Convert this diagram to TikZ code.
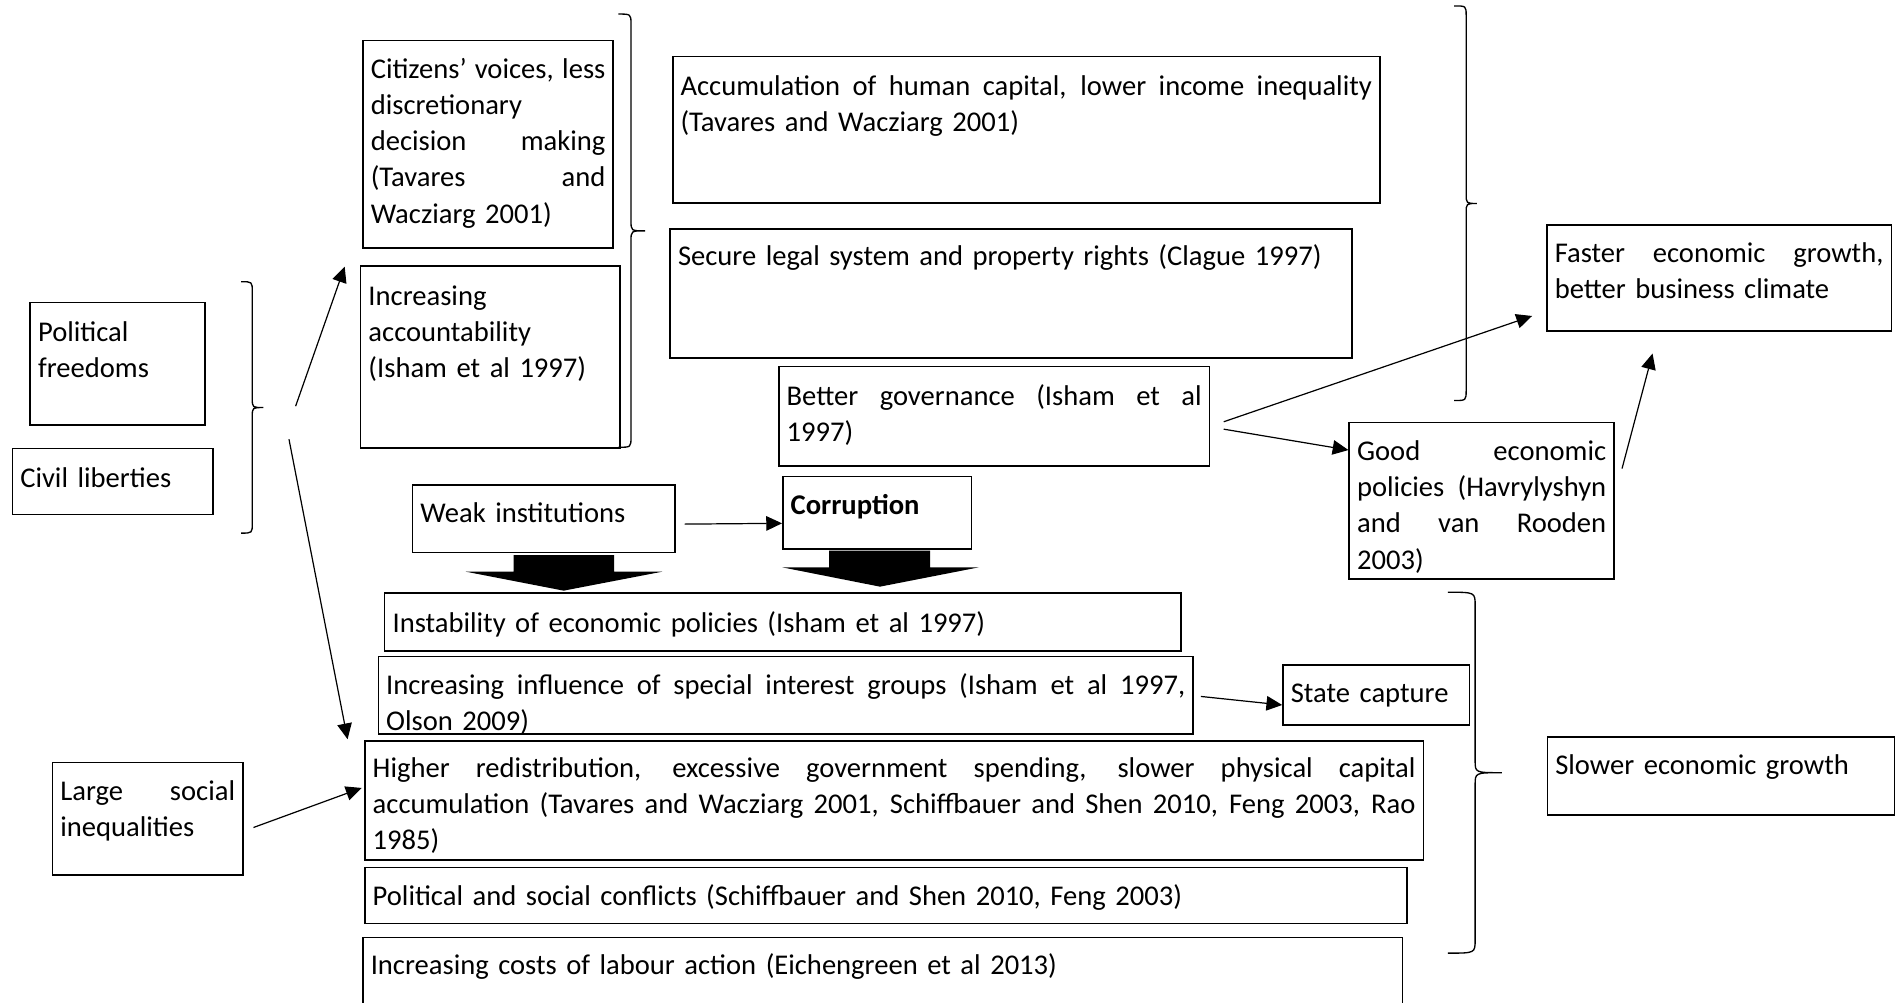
\documentclass[tikz,border=0pt]{standalone}
\usepackage{fontspec}
\setmainfont{Carlito}
\usetikzlibrary{arrows.meta,calc}
\newcommand{\J}[1]{\leavevmode\hbox to \bxw pt{\spaceskip=0pt\xspaceskip=0pt #1}}
\tikzset{
  bx/.style={draw, line width=1.3pt, rectangle, anchor=north west,
    inner xsep=6.5pt, inner ysep=0pt, align=left,
    font=\fontsize{23.6}{29.8}\selectfont},
  geom/.code n args={3}{%
    \pgfmathsetmacro\bxw{#1-13}\pgfmathsetmacro\bxd{#2-#3}%
    \global\let\bxw\bxw
    \edef\bxtmp{\noexpand\pgfkeysalso{text width=\bxw pt,text height=#3pt,text depth=\bxd pt}}\bxtmp},
  arr/.style={-{Triangle[length=13pt,width=12pt]}, line width=1pt},
  brc/.style={line width=1.1pt},
  blockarrow/.style={fill=black},
}
\begin{document}
\begin{tikzpicture}[x=1pt,y=-1pt]
\path[use as bounding box, fill=white] (0,0) rectangle (1568,828);
\clip (0,0) rectangle (1568,828);

% boxes
\node[bx, geom={206.7}{171.5}{31.6}] (cit) at (299,32.7)
  {\J{Citizens’ voices, less}\\ discretionary\\ \J{decision making}\\ \J{(Tavares and}\\ Wacziarg 2001)};
\node[bx, geom={214.2}{150.1}{32.2}] (acc) at (297.1,219.2)
  {Increasing\\ accountability\\ (Isham et al 1997)};
\node[bx, geom={583.9}{121}{32.4}] (hum) at (554.8,46)
  {\J{Accumulation of human capital, lower income inequality}\\ (Tavares and Wacziarg 2001)};
\node[bx, geom={562.8}{106.5}{30.5}] (leg) at (552.7,188.3)
  {Secure legal system and property rights (Clague 1997)};
\node[bx, geom={284.4}{87.6}{31}] (fast) at (1276.6,185)
  {\J{Faster economic growth,}\\ better business climate};
\node[bx, geom={355.6}{82}{32.4}] (gov) at (642.4,302)
  {\J{Better governance (Isham et al}\\ 1997)};
\node[bx, geom={218.7}{129.3}{31.6}] (good) at (1113.4,348.2)
  {\J{Good economic}\\ \J{policies (Havrylyshyn}\\ \J{and van Rooden}\\ 2003)};
\node[bx, geom={144.2}{101.4}{32.5}] (pol) at (24.3,249)
  {Political\\ freedoms};
\node[bx, geom={165.5}{54.5}{32.2}] (civ) at (9.6,369.8)
  {Civil liberties};
\node[bx, geom={216.5}{56}{31.1}] (weak) at (340,399.6)
  {Weak institutions};
\node[bx, geom={155.7}{60}{31.1}] (corr) at (645.7,392.8)
  {\textbf{Corruption}};
\node[bx, geom={657.5}{48}{33}] (inst) at (317,488.8)
  {Instability of economic policies (Isham et al 1997)};
\node[bx, geom={672.8}{64}{31.2}] (infl) at (311.7,541.5)
  {\J{Increasing influence of special interest groups (Isham et al 1997,}\\ Olson 2009)};
\node[bx, geom={154.1}{49.8}{31.1}] (cap) at (1058.7,548.3)
  {State capture};
\node[bx, geom={874}{98.2}{30}] (high) at (300.6,611.4)
  {\J{Higher redistribution, excessive government spending, slower physical capital}\\ \J{accumulation (Tavares and Wacziarg 2001, Schiffbauer and Shen 2010, Feng 2003, Rao}\\ 1985)};
\node[bx, geom={157.3}{93}{30.9}] (large) at (42.7,629)
  {\J{Large social}\\ inequalities};
\node[bx, geom={860.6}{46.3}{31.6}] (conf) at (300.6,715.7)
  {Political and social conflicts (Schiffbauer and Shen 2010, Feng 2003)};
\node[bx, geom={858.5}{80}{30.3}] (cost) at (299,773.3)
  {Increasing costs of labour action (Eichengreen et al 2013)};
\node[bx, geom={286.5}{64.7}{31.3}] (slow) at (1277,607.7)
  {Slower economic growth};

% braces
\draw[brc] (199,232.6) .. controls (208.3,232.6) .. (208.3,241) -- (208.3,329)
  .. controls (208.3,336.5) .. (217.5,336.5) .. controls (208.3,336.5) .. (208.3,344)
  -- (208.3,432) .. controls (208.3,440.2) .. (199,440.2);
\draw[brc] (510.5,11.6) .. controls (521,11.6) .. (521,20) -- (521,182)
  .. controls (521,190.6) .. (532.6,190.6) .. controls (521,190.6) .. (521,199)
  -- (521,361) .. controls (521,369.3) .. (510.5,369.3);
\draw[brc] (1200.7,4.9) .. controls (1210.6,4.9) .. (1210.6,13) -- (1210.6,160)
  .. controls (1210.6,168) .. (1219.5,168) .. controls (1210.6,168) .. (1210.6,176)
  -- (1210.6,322) .. controls (1210.6,330.7) .. (1200.7,330.7);
\draw[brc] (1195.4,489) .. controls (1218,489) .. (1218,500) -- (1218,628)
  .. controls (1218,638) .. (1240,638) .. controls (1218,638) .. (1218,648)
  -- (1218,776) .. controls (1218,787) .. (1195.4,787);

% block arrows
\fill[blockarrow] (424,458.3) -- (507,458.3) -- (507,472) -- (547,472) -- (465.4,487.7)
  -- (384.5,472) -- (424,472) -- cycle;
\fill[blockarrow] (684.6,454.7) -- (768,454.7) -- (768,468.4) -- (808.4,468.4) -- (726.6,484.4)
  -- (645.7,468.4) -- (684.6,468.4) -- cycle;

% connector end points
\coordinate (bs1) at ($(pol.east)+(74.3,35)$);
\coordinate (bt1) at ($(acc.north west)+(-12.5,0.9)$);
\coordinate (bs2) at ($(pol.east)+(68.8,62.3)$);
\coordinate (bt2) at ($(high.north west)+(-13.6,-1)$);
\coordinate (ls) at ($(large.east)+(8,7.1)$);
\coordinate (lt) at ($(high.north west)+(-2,39.2)$);
\coordinate (ws) at ($(weak.east)+(7.4,4.5)$);
\coordinate (wt) at ($(corr.north west)+(0,39.3)$);
\coordinate (gs1) at ($(gov.east)+(11.1,4.6)$);
\coordinate (gt1) at ($(fast.south west)+(-11.6,-13)$);
\coordinate (gs2) at ($(gov.east)+(11.1,10.7)$);
\coordinate (gt2) at ($(good.north west)+(0,23.4)$);
\coordinate (es) at ($(good.north east)+(5.9,38.7)$);
\coordinate (et) at ($(fast.south west)+(87.9,18)$);
\coordinate (is) at ($(infl.east)+(5.8,0.9)$);
\coordinate (it) at ($(cap.north west)+(0,33.8)$);

\draw[arr] (bs1) -- (bt1);
\draw[arr] (bs2) -- (bt2);
\draw[arr] (ls) -- (lt);
\draw[arr] (ws) -- (wt);
\draw[arr] (gs1) -- (gt1);
\draw[arr] (gs2) -- (gt2);
\draw[arr] (es) -- (et);
\draw[arr] (is) -- (it);
\end{tikzpicture}
\end{document}
